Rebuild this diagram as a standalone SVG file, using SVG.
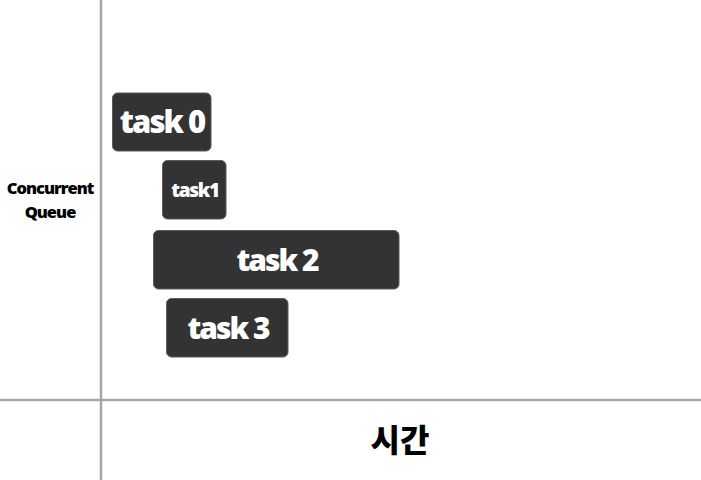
<svg xmlns="http://www.w3.org/2000/svg" width="701" height="480" viewBox="0 0 701 480">
<style>
.task rect{fill:#333333;stroke:#5a5a5a;stroke-width:1}
.task text{fill:#ffffff;font-family:"Open Sans","Noto Sans",sans-serif;font-weight:800;text-anchor:middle}
.axis{stroke:#a6a6a6;stroke-width:2.5;fill:none}
.lbl{fill:#000;font-family:"Open Sans","Noto Sans",sans-serif;font-weight:800;text-anchor:middle}
</style>
<rect width="701" height="480" fill="#ffffff"/>
<g id="axes">
<line class="axis" x1="101" y1="0" x2="101" y2="480"/>
<line class="axis" x1="0" y1="400" x2="701" y2="400"/>
</g>
<g id="label-queue">
<text class="lbl" x="50" y="194" font-size="16.5" letter-spacing="-1">Concurrent</text>
<text class="lbl" x="50" y="218" font-size="16.5" letter-spacing="-1">Queue</text>
</g>
<g id="label-time">
<text class="lbl" x="400" y="452" font-size="32" font-weight="900" style="font-family:'Noto Sans CJK KR',sans-serif;font-weight:900">시간</text>
</g>
<g id="task0" class="task">
<rect x="112.5" y="93" width="98.5" height="58" rx="5"/>
<text x="162" y="133" font-size="31" letter-spacing="-2">task 0</text>
</g>
<g id="task1" class="task">
<rect x="162.5" y="160.5" width="63.5" height="58.5" rx="5"/>
<text x="195" y="197" font-size="19" letter-spacing="-1.3">task1</text>
</g>
<g id="task2" class="task">
<rect x="153.5" y="230.5" width="245.5" height="58.5" rx="5"/>
<text x="277" y="271" font-size="30" letter-spacing="-2">task 2</text>
</g>
<g id="task3" class="task">
<rect x="166.5" y="298.5" width="121.5" height="58.5" rx="5"/>
<text x="228" y="339" font-size="30" letter-spacing="-2">task 3</text>
</g>
</svg>
